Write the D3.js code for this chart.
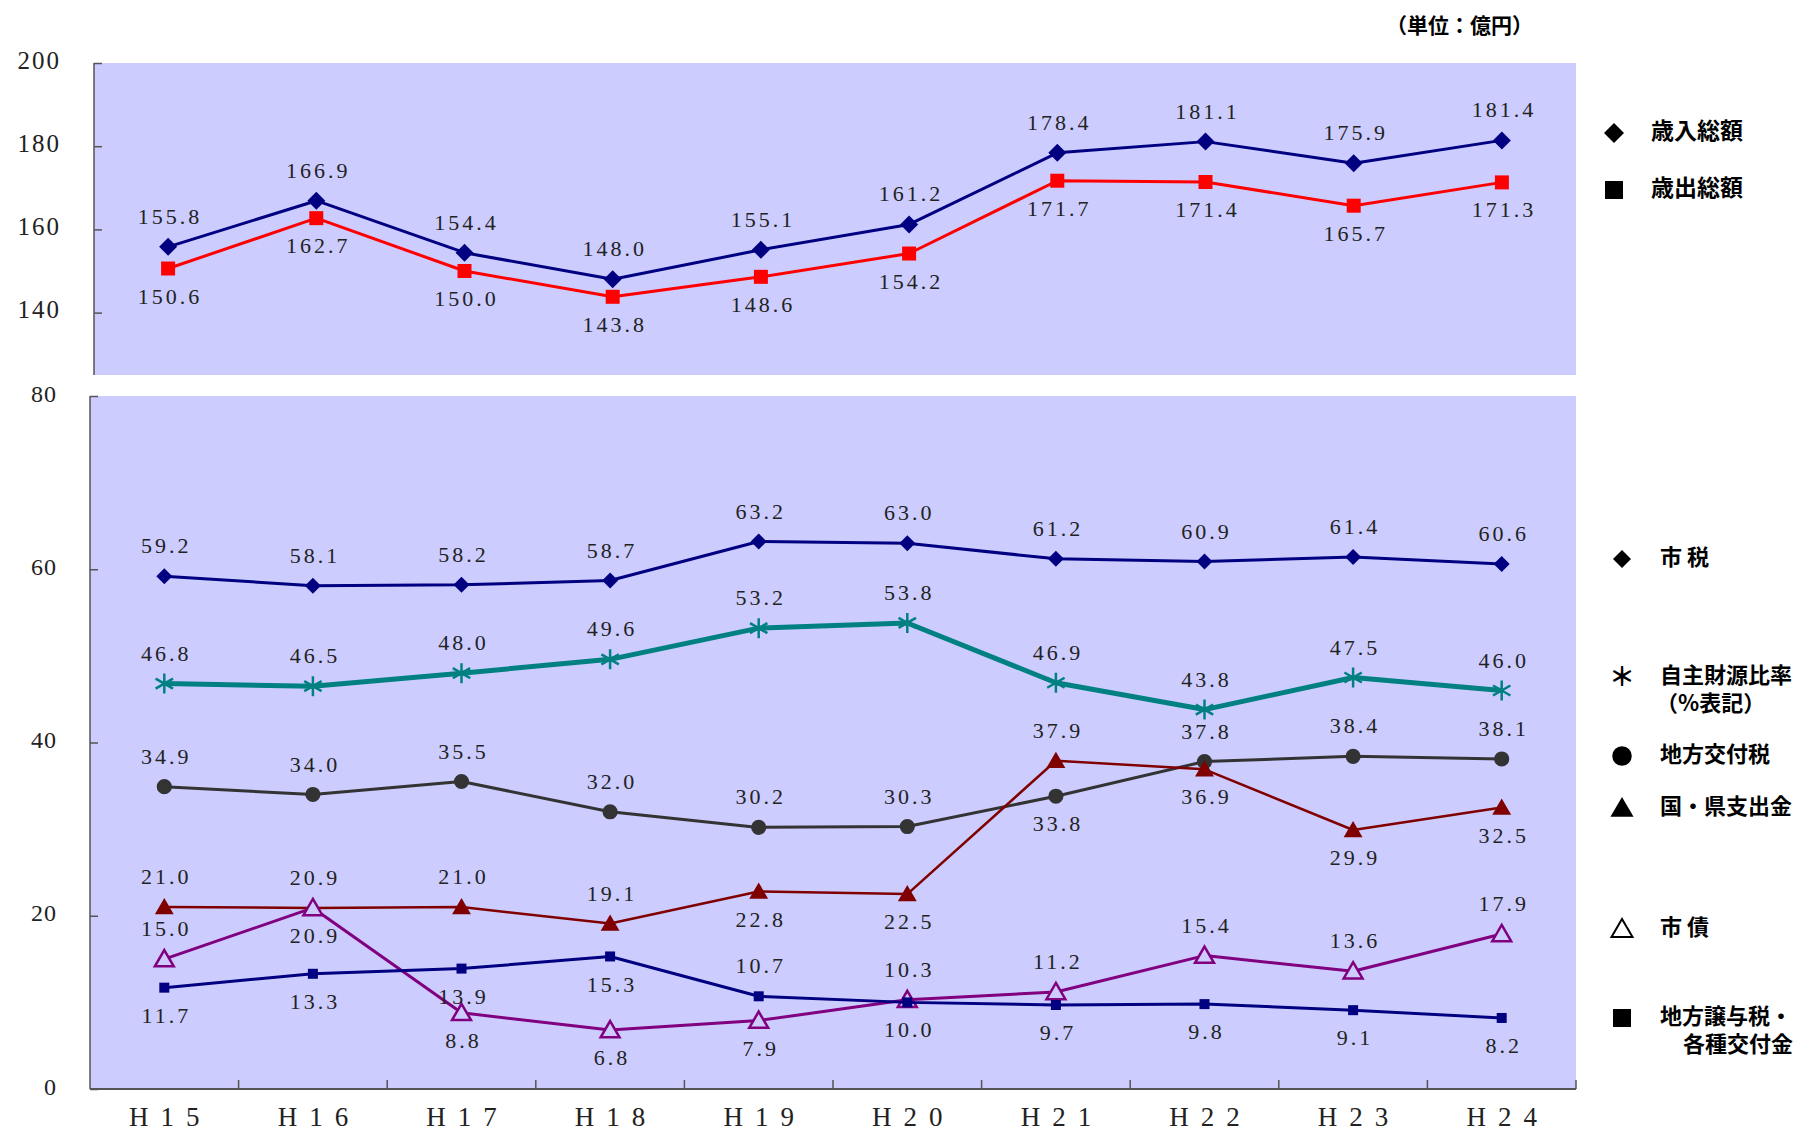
<!DOCTYPE html>
<html>
<head>
<meta charset="utf-8">
<script src="https://cdn.jsdelivr.net/npm/d3@7"></script>
<style>
  body { margin: 0; background: #fff; }
  .num { font-family: "Liberation Serif", "DejaVu Serif", serif; fill: #222; }
  .jp { font-family: "Noto Sans CJK JP", sans-serif; font-weight: 700; fill: #000; }
</style>
</head>
<body>
<svg id="chart" width="1804" height="1136"></svg>
<script>
const years = ["H15", "H16", "H17", "H18", "H19", "H20", "H21", "H22", "H23", "H24"];

// top panel (億円)
const revenue = [155.8, 166.9, 154.4, 148.0, 155.1, 161.2, 178.4, 181.1, 175.9, 181.4];
const expense = [150.6, 162.7, 150.0, 143.8, 148.6, 154.2, 171.7, 171.4, 165.7, 171.3];
const topTicks = [140, 160, 180, 200];

// bottom panel
const cityTax = [59.2, 58.1, 58.2, 58.7, 63.2, 63.0, 61.2, 60.9, 61.4, 60.6];
const ownRatio = [46.8, 46.5, 48.0, 49.6, 53.2, 53.8, 46.9, 43.8, 47.5, 46.0];
const allocTax = [34.9, 34.0, 35.5, 32.0, 30.2, 30.3, 33.8, 37.8, 38.4, 38.1];
const subsidy = [21.0, 20.9, 21.0, 19.1, 22.8, 22.5, 37.9, 36.9, 29.9, 32.5];
const cityBond = [15.0, 20.9, 8.8, 6.8, 7.9, 10.3, 11.2, 15.4, 13.6, 17.9];
const transferTax = [11.7, 13.3, 13.9, 15.3, 10.7, 10.0, 9.7, 9.8, 9.1, 8.2];
const bottomTicks = [0, 20, 40, 60, 80];

// label side: a = above, b = below
const allAbove = "aaaaaaaaaa".split("");
const allBelow = "bbbbbbbbbb".split("");
const allocSide = "aaaaaabaaa".split("");
const subsidySide = "aaaabbabbb".split("");
const bondSide = "abbbbaaaaa".split("");
const transferSide = "bbbbabbbbb".split("");

const svg = d3.select("#chart");
const fmt = d3.format(".1f");

// marker shapes
function diamond(s) { return `M0,${-s}L${s},0L0,${s}L${-s},0Z`; }
function square(s) { return `M${-s},${-s}h${2*s}v${2*s}h${-2*s}Z`; }
function triangle(s) { return `M0,${-s}L${s*1.05},${s*0.8}L${-s*1.05},${s*0.8}Z`; }
function asterisk(s) {
    const dx = s * 0.87, dy = s * 0.5;
    return `M0,${-s}V${s}M${-dx},${-dy}L${dx},${dy}M${-dx},${dy}L${dx},${-dy}`;
}

// ---------- top panel ----------
const xTop = d3.scaleBand().domain(years).range([94, 1576]);
const yTop = d3.scaleLinear().domain([125, 200]).range([375, 63]);

svg.append("rect")
    .attr("x", 94).attr("y", 63)
    .attr("width", 1576 - 94).attr("height", 375 - 63)
    .attr("fill", "#CCCCFF");

const topAxis = svg.append("g").attr("transform", "translate(94,0)")
    .call(d3.axisLeft(yTop).tickValues(topTicks).tickSize(-8).tickFormat(""));
topAxis.select(".domain").attr("stroke", "#555").attr("stroke-width", 1.5).attr("d", "M0,63V375");
topAxis.selectAll(".tick line").attr("stroke", "#555").attr("stroke-width", 1.5);

svg.selectAll(".ytop")
    .data(topTicks)
    .enter().append("text")
    .attr("class", "num")
    .attr("x", 61)
    .attr("y", d => yTop(d))
    .attr("text-anchor", "end")
    .attr("dominant-baseline", "middle")
    .style("font-size", "25px")
    .style("letter-spacing", "2px")
    .text(d => d);

// ---------- bottom panel ----------
const xBot = d3.scaleBand().domain(years).range([90, 1576]);
const yBot = d3.scaleLinear().domain([0, 80]).range([1089, 396]);

svg.append("rect")
    .attr("x", 90).attr("y", 396)
    .attr("width", 1576 - 90).attr("height", 1089 - 396)
    .attr("fill", "#CCCCFF");

const botY = svg.append("g").attr("transform", "translate(90,0)")
    .call(d3.axisLeft(yBot).tickValues(bottomTicks).tickSize(-8).tickFormat(""));
botY.select(".domain").attr("stroke", "#555").attr("stroke-width", 1.5).attr("d", "M0,396V1089");
botY.selectAll(".tick line").attr("stroke", "#555").attr("stroke-width", 1.5);

// x axis with ticks at band boundaries
const xEdges = years.map(d => xBot(d)).concat([1576]);
const botX = svg.append("g");
botX.append("line")
    .attr("x1", 90).attr("x2", 1576).attr("y1", 1089).attr("y2", 1089)
    .attr("stroke", "#555").attr("stroke-width", 2);
botX.selectAll(".xt")
    .data(xEdges.slice(1))
    .enter().append("line")
    .attr("x1", d => d).attr("x2", d => d)
    .attr("y1", 1089).attr("y2", 1080)
    .attr("stroke", "#555").attr("stroke-width", 1.5);

svg.selectAll(".ybot")
    .data(bottomTicks)
    .enter().append("text")
    .attr("class", "num")
    .attr("x", 57)
    .attr("y", d => yBot(d))
    .attr("text-anchor", "end")
    .attr("dominant-baseline", "middle")
    .style("font-size", "24px")
    .style("letter-spacing", "1px")
    .text(d => d);

svg.selectAll(".xlab")
    .data(years)
    .enter().append("text")
    .attr("class", "num")
    .attr("x", d => xBot(d) + xBot.bandwidth() / 2 + 6)
    .attr("y", 1120)
    .attr("text-anchor", "middle")
    .attr("dominant-baseline", "middle")
    .style("font-size", "27px")
    .style("letter-spacing", "12px")
    .text(d => d);

// ---------- series ----------
function drawSeries(values, x, y, opt) {
    const g = svg.append("g");
    const cx = (d, i) => x(years[i]) + x.bandwidth() / 2;
    g.append("path")
        .datum(values)
        .attr("fill", "none")
        .attr("stroke", opt.color)
        .attr("stroke-width", opt.width)
        .attr("stroke-linejoin", "round")
        .attr("d", d3.line().x(cx).y(d => y(d)));

    g.selectAll(".mk")
        .data(values)
        .enter().append("path")
        .attr("transform", (d, i) => `translate(${cx(d, i)},${y(d)})`)
        .attr("d", opt.shape)
        .attr("fill", opt.fill)
        .attr("stroke", opt.stroke || "none")
        .attr("stroke-width", opt.sw || 0);

    g.selectAll(".lb")
        .data(values)
        .enter().append("text")
        .attr("class", "num")
        .attr("x", (d, i) => cx(d, i) + 2)
        .attr("y", (d, i) => y(d) + (opt.side[i] === "a" ? -28 : 30))
        .attr("text-anchor", "middle")
        .attr("dominant-baseline", "middle")
        .style("font-size", "22px")
        .style("letter-spacing", "3px")
        .text(d => fmt(d));
}

drawSeries(revenue, xTop, yTop, { color: "#000080", width: 3, shape: diamond(9), fill: "#000080", side: allAbove });
drawSeries(expense, xTop, yTop, { color: "#FF0000", width: 3, shape: square(7), fill: "#FF0000", side: allBelow });

drawSeries(cityTax, xBot, yBot, { color: "#000080", width: 3, shape: diamond(8), fill: "#000080", side: allAbove });
drawSeries(ownRatio, xBot, yBot, { color: "#008080", width: 5, shape: asterisk(10), fill: "none", stroke: "#008080", sw: 2.5, side: allAbove });
drawSeries(allocTax, xBot, yBot, { color: "#333333", width: 3, shape: d3.symbol(d3.symbolCircle, 180)(), fill: "#333333", side: allocSide });
drawSeries(subsidy, xBot, yBot, { color: "#800000", width: 2.5, shape: triangle(9), fill: "#800000", side: subsidySide });
drawSeries(cityBond, xBot, yBot, { color: "#800080", width: 3, shape: triangle(9), fill: "#CCCCFF", stroke: "#800080", sw: 2.5, side: bondSide });
drawSeries(transferTax, xBot, yBot, { color: "#000080", width: 3, shape: square(5), fill: "#000080", side: transferSide });

// ---------- unit + legends ----------
svg.append("text")
    .attr("class", "jp")
    .attr("x", 1386).attr("y", 27)
    .attr("dominant-baseline", "middle")
    .style("font-size", "21px")
    .text("（単位：億円）");

const legendTop = [
    { label: "歳入総額", shape: diamond(10), y: 133 },
    { label: "歳出総額", shape: square(9), y: 190 }
];
const lt = svg.selectAll(".lt").data(legendTop).enter().append("g");
lt.append("path")
    .attr("transform", d => `translate(1614,${d.y})`)
    .attr("d", d => d.shape).attr("fill", "#000");
lt.append("text")
    .attr("class", "jp")
    .attr("x", 1651).attr("y", d => d.y)
    .attr("dominant-baseline", "middle")
    .style("font-size", "23px")
    .text(d => d.label);

const legendBot = [
    { lines: ["市 税"], indent: 0, shape: diamond(9), y: 559, fill: "#000" },
    { lines: ["自主財源比率", "（%表記）"], indent: -4, shape: null, y: 677 },
    { lines: ["地方交付税"], indent: 0, shape: d3.symbol(d3.symbolCircle, 300)(), y: 756, fill: "#000" },
    { lines: ["国・県支出金"], indent: 0, shape: triangle(11), y: 808, fill: "#000" },
    { lines: ["市 債"], indent: 0, shape: triangle(10), y: 929, fill: "none", stroke: "#000" },
    { lines: ["地方譲与税・", "各種交付金"], indent: 23, shape: square(9), y: 1018, fill: "#000" }
];
const lb = svg.selectAll(".lb2").data(legendBot).enter().append("g");
lb.filter(d => d.shape).append("path")
    .attr("transform", d => `translate(1622,${d.y})`)
    .attr("d", d => d.shape)
    .attr("fill", d => d.fill)
    .attr("stroke", d => d.stroke || "none")
    .attr("stroke-width", 2);
lb.filter(d => !d.shape).append("text")
    .attr("class", "jp")
    .attr("x", 1622).attr("y", d => d.y + 2)
    .attr("text-anchor", "middle")
    .attr("dominant-baseline", "middle")
    .style("font-size", "26px")
    .text("＊");
// one text per legend entry, second line as a tspan
lb.append("text")
    .attr("class", "jp")
    .attr("y", d => d.y)
    .attr("dominant-baseline", "middle")
    .style("font-size", "22px")
    .each(function (d) {
        d3.select(this).selectAll("tspan")
            .data(d.lines)
            .enter().append("tspan")
            .attr("x", (t, i) => 1660 + (i === 0 ? 0 : d.indent))
            .attr("dy", (t, i) => i === 0 ? 0 : 28)
            .text(t => t);
    });
</script>
</body>
</html>
